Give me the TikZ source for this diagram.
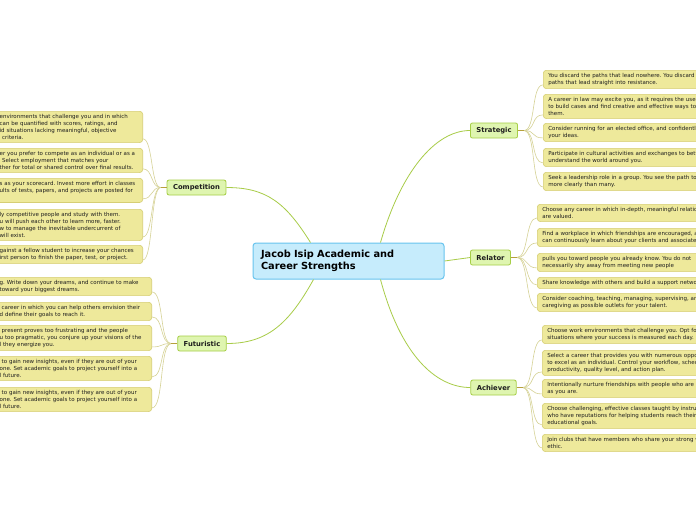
\documentclass[tikz,border=0pt]{standalone}
\usepackage{fontspec}
\setmainfont{DejaVu Sans}
\usetikzlibrary{positioning,calc}
\frenchspacing
\definecolor{RootFill}{RGB}{198,236,252}
\definecolor{RootLine}{RGB}{104,196,238}
\definecolor{TopicFill}{RGB}{223,245,176}
\definecolor{TopicLine}{RGB}{166,206,70}
\definecolor{LeafFill}{RGB}{238,233,155}
\definecolor{LeafLine}{RGB}{214,206,116}
\definecolor{MainLink}{RGB}{168,204,72}
\definecolor{LeafLink}{RGB}{214,210,150}
\definecolor{StubLink}{RGB}{182,160,60}
\definecolor{Ink}{RGB}{30,30,30}
\tikzset{
  root/.style={draw=RootLine,fill=RootFill,rounded corners=3pt,line width=1pt,minimum width=191pt,minimum height=36pt,text width=175pt,inner xsep=8pt,align=left,font=\bfseries\fontsize{9.8}{12}\selectfont,text=black},
  topic/.style={draw=TopicLine,fill=TopicFill,rounded corners=2pt,line width=0.8pt,minimum height=15pt,inner xsep=6pt,inner ysep=2pt,font=\bfseries\fontsize{6.8}{8}\selectfont,text=Ink},
  leafbase/.style={draw=LeafLine,fill=LeafFill,rounded corners=3pt,line width=0.6pt,align=left,inner xsep=5pt,inner ysep=3pt,font=\fontsize{5.5}{7}\selectfont,text=Ink},
  leafR/.style={leafbase,anchor=north west,text width=200pt},
  leafL/.style={leafbase,anchor=north east,text width=#1},
  mainlink/.style={draw=MainLink,line width=0.8pt},
  leaflink/.style={draw=LeafLink,line width=0.6pt},
  stub/.style={draw=StubLink,line width=1pt}
}
\begin{document}
\begin{tikzpicture}[x=1pt,y=-1pt]
\useasboundingbox (0,0) rectangle (696,520);
\clip (0,0) rectangle (696,520);
\fill[white] (0,0) rectangle (696,520);
% centre and main topics
\node[root] (root) at (348.5,261) {Jacob Isip Academic and\\Career Strengths};
\node[topic] (strat) at (494,130.5) {Strategic};
\node[topic] (relat) at (490.5,257.5) {Relator};
\node[topic] (achie) at (493.5,387.5) {Achiever};
\node[topic] (compe) at (196.5,187.5) {Competition};
\node[topic] (futur) at (202,343.5) {Futuristic};
\draw[mainlink] ([xshift=32pt]root.north) .. controls +(20,-70) and +(-35,0) .. (strat.west);
\draw[mainlink] (root.east) -- (relat.west);
\draw[mainlink] ([xshift=32pt]root.south) .. controls +(20,75) and +(-35,0) .. (achie.west);
\draw[mainlink] ([xshift=-38pt]root.north) .. controls +(-25,-40) and +(40,0) .. (compe.east);
\draw[mainlink] ([xshift=-35pt]root.south) .. controls +(-25,45) and +(40,0) .. (futur.east);
% Strategic
\node[leafR] (s1) at (543,70) {You discard the paths that lead nowhere. You discard\\paths that lead straight into resistance.};
\node[leafR] (s2) at (543,94) {A career in law may excite you, as it requires the use\\to build cases and find creative and effective ways to\\them.};
\node[leafR] (s3) at (543,123) {Consider running for an elected office, and confidently\\your ideas.};
\node[leafR] (s4) at (543,148) {Participate in cultural activities and exchanges to bett\\understand the world around you.};
\node[leafR] (s5) at (543,172) {Seek a leadership role in a group. You see the path to\\more clearly than many.};
% Relator
\node[leafR] (r1) at (537,204) {Choose any career in which in-depth, meaningful relatio\\are valued.};
\node[leafR] (r2) at (537,228) {Find a workplace in which friendships are encouraged, a\\can continuously learn about your clients and associates};
\node[leafR] (r3) at (537,253) {pulls you toward people you already know. You do not\\necessarily shy away from meeting new people};
\node[leafR] (r4) at (537,277) {Share knowledge with others and build a support netwo};
\node[leafR] (r5) at (537,293) {Consider coaching, teaching, managing, supervising, an\\caregiving as possible outlets for your talent.};
% Achiever
\node[leafR] (a1) at (542,325) {Choose work environments that challenge you. Opt fo\\situations where your success is measured each day.};
\node[leafR] (a2) at (542,350) {Select a career that provides you with numerous oppo\\to excel as an individual. Control your workflow, sched\\productivity, quality level, and action plan.};
\node[leafR] (a3) at (542,379) {Intentionally nurture friendships with people who are a\\as you are.};
\node[leafR] (a4) at (542,403) {Choose challenging, effective classes taught by instruc\\who have reputations for helping students reach their\\educational goals.};
\node[leafR] (a5) at (542,434) {Join clubs that have members who share your strong w\\ethic.};
% Competition
\node[leafL=138pt] (c1) at (143,111) {environments that challenge you and in which\\can be quantified with scores, ratings, and\\id situations lacking meaningful, objective\\\hspace*{2.5pt}criteria.};
\node[leafL=138pt] (c2) at (143,148) {er you prefer to compete as an individual or as a\\\hspace*{2.5pt}Select employment that matches your\\ther for total or shared control over final results.};
\node[leafL=138pt] (c3) at (143,178) {s as your scorecard. Invest more effort in classes\\ults of tests, papers, and projects are posted for\\\mbox{}};
\node[leafL=138pt] (c4) at (143,209) {ly competitive people and study with them.\\u will push each other to learn more, faster.\\w to manage the inevitable undercurrent of\\will exist.};
\node[leafL=138pt] (c5) at (143,245) {gainst a fellow student to increase your chances\\irst person to finish the paper, test, or project.};
% Futuristic
\node[leafL=147pt] (f1) at (152,277) {g. Write down your dreams, and continue to make\\toward your biggest dreams.};
\node[leafL=147pt] (f2) at (152,302) {\hspace*{2pt}career in which you can help others envision their\\d define their goals to reach it.};
\node[leafL=147pt] (f3) at (152,325) {\hspace*{2pt}present proves too frustrating and the people\\u too pragmatic, you conjure up your visions of the\\l they energize you.};
\node[leafL=147pt] (f4) at (152,356) {\hspace*{2pt}to gain new insights, even if they are out of your\\one. Set academic goals to project yourself into a\\l future.};
\node[leafL=147pt] (f5) at (152,387) {\hspace*{2pt}to gain new insights, even if they are out of your\\one. Set academic goals to project yourself into a\\l future.};
% fans to the leaves
\coordinate (sJ) at ([xshift=6pt]strat.east);
\coordinate (rJ) at ([xshift=6pt]relat.east);
\coordinate (aJ) at ([xshift=6pt]achie.east);
\coordinate (cJ) at ([xshift=-6pt]compe.west);
\coordinate (fJ) at ([xshift=-6pt]futur.west);
\foreach \n in {s1,s2,s3,s4,s5}
  \draw[leaflink] (sJ) .. controls +(12,0) and +(-12,0) .. ([yshift=4pt]\n.south west);
\foreach \n in {r1,r2,r3,r4,r5}
  \draw[leaflink] (rJ) .. controls +(12,0) and +(-12,0) .. ([yshift=4pt]\n.south west);
\foreach \n in {a1,a2,a3,a4,a5}
  \draw[leaflink] (aJ) .. controls +(12,0) and +(-12,0) .. ([yshift=4pt]\n.south west);
\foreach \n in {c1,c2,c3,c4,c5}
  \draw[leaflink] (cJ) .. controls +(-10,0) and +(10,0) .. ([yshift=4pt]\n.south east);
\foreach \n in {f1,f2,f3,f4,f5}
  \draw[leaflink] (fJ) .. controls +(-12,0) and +(12,0) .. ([yshift=4pt]\n.south east);
\draw[stub] (strat.east) -- (sJ);
\draw[stub] (relat.east) -- (rJ);
\draw[stub] (achie.east) -- (aJ);
\draw[stub] (compe.west) -- (cJ);
\draw[stub] (futur.west) -- (fJ);
\end{tikzpicture}
\end{document}
